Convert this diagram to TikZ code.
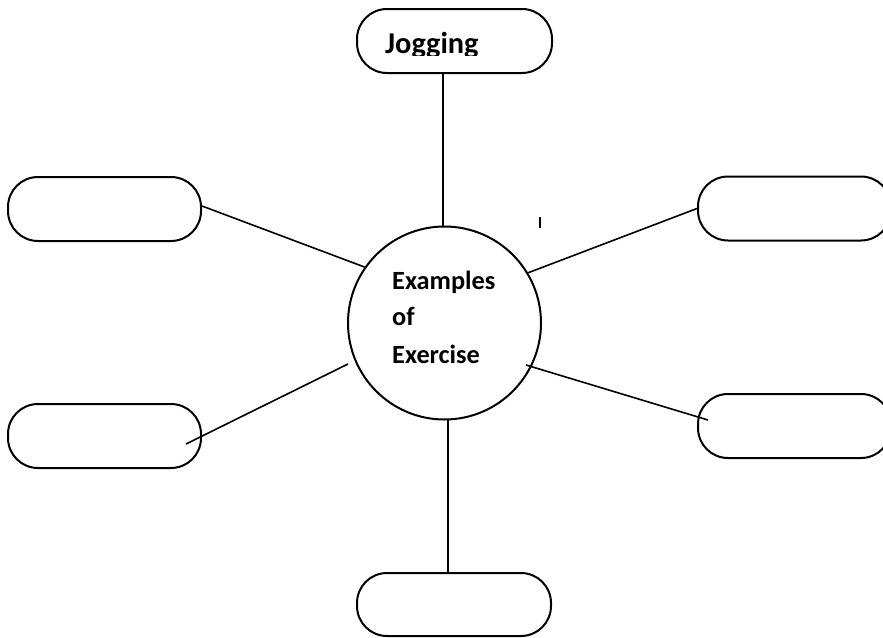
\documentclass[tikz,border=0pt]{standalone}
\usepackage{fontspec}
\setmainfont{Carlito}
\begin{document}
\begin{tikzpicture}[x=1pt,y=-1pt,
  pill/.style={draw, line width=2pt, rounded corners=30pt, minimum width=193pt,
    minimum height=64pt, inner sep=0pt},
  hub/.style={draw, circle, line width=2pt, minimum size=193pt, inner sep=0pt},
  spoke/.style={line width=1.6pt},
  hubtext/.style={font=\bfseries\fontsize{26.3}{30}\selectfont, anchor=base west, inner sep=0pt},
  toptext/.style={font=\bfseries\fontsize{30.3}{34}\selectfont, anchor=base west, inner sep=0pt}]
\clip (0,0) rectangle (883,637);

% central hub
\node[hub] (c) at (444.5,323) {};
\node[hubtext] (ex1) at (392,289) {Examples};
\node[hubtext] (ex2) at (392,325) {of};
\node[hubtext] (ex3) at (392,363) {Exercise};

% surrounding boxes
\node[pill, minimum width=195pt] (top) at (454.5,41) {};
\node[pill] (lt) at (104.5,209) {};
\node[pill] (lb) at (104.5,436) {};
\node[pill] (rt) at (794.5,208.5) {};
\node[pill] (rb) at (794.5,426) {};
\node[pill, minimum width=194pt, minimum height=63pt] (bot) at (454,604.5) {};

% top box label, its descenders cut off by the box text area
\begin{scope}
  \clip (357,9) rectangle (552,55);
  \node[toptext] (jog) at (385,53) {Jogging};
\end{scope}

% free ends of the lower side spokes
\coordinate (lb-in) at (348,364);
\coordinate (lb-out) at (186,444);
\coordinate (rb-in) at (526,365);
\coordinate (rb-out) at (708,420);

% spokes
\draw[spoke] (c.91) -- (c.91 |- top.south);
\draw[spoke] (c.-88.5) -- (c.-88.5 |- bot.north);
\draw[spoke] ([yshift=3pt]lt.east) -- (c.145.8);
\draw[spoke] (c.31.7) -- (rt.west);
\draw[spoke] (lb-in) -- (lb-out);
\draw[spoke] (rb-in) -- (rb-out);

% small stray tick
\coordinate (tick-a) at (540,217);
\coordinate (tick-b) at (540,228);
\draw[line width=1.5pt] (tick-a) -- (tick-b);
\end{tikzpicture}
\end{document}
